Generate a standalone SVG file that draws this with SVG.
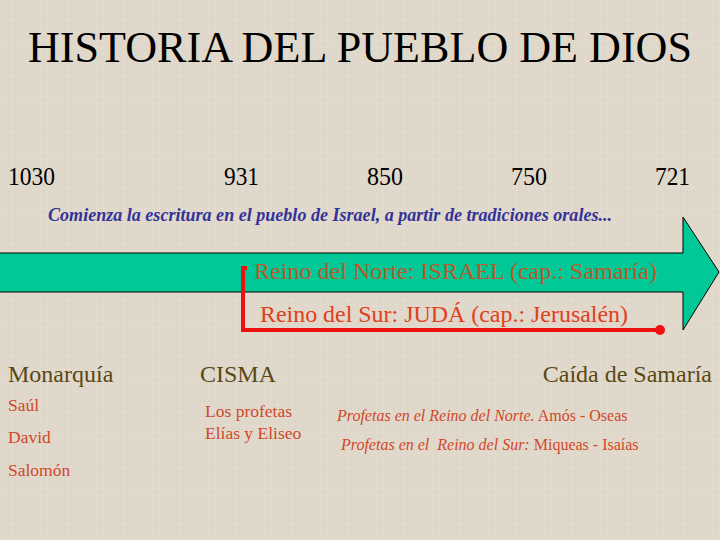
<svg xmlns="http://www.w3.org/2000/svg" width="720" height="540" viewBox="0 0 720 540">
<defs>
<style>
text{font-family:"Liberation Serif","Times New Roman",serif;}
.title{font-size:44px;fill:#000;}
.year{font-size:25px;fill:#000;}
.intro{font-size:19px;font-weight:bold;font-style:italic;fill:#333399;}
.norte{font-size:24px;fill:#b85a2c;}
.sur{font-size:24px;fill:#e0401a;}
.head{font-size:24px;fill:#5a4814;}
.item{font-size:17.5px;fill:#d0482a;}
.prof{font-size:16px;fill:#d0482a;}
.it{font-style:italic;}
</style>
<pattern id="tex" width="7" height="7" patternUnits="userSpaceOnUse">
<rect width="7" height="7" fill="#e0d8ca"/>
<rect x="1" y="2" width="1" height="1" fill="#d6cdbd"/>
<rect x="5" y="5" width="1" height="1" fill="#e9e2d6"/>
</pattern>
</defs>
<rect width="720" height="540" fill="url(#tex)"/>
<g id="title"><text class="title" x="28" y="62" textLength="664" lengthAdjust="spacingAndGlyphs">HISTORIA DEL PUEBLO DE DIOS</text></g>
<g id="years">
<text class="year" x="8" y="185" textLength="47" lengthAdjust="spacingAndGlyphs">1030</text>
<text class="year" x="224" y="185" textLength="35" lengthAdjust="spacingAndGlyphs">931</text>
<text class="year" x="367" y="185" textLength="36" lengthAdjust="spacingAndGlyphs">850</text>
<text class="year" x="511" y="185" textLength="36" lengthAdjust="spacingAndGlyphs">750</text>
<text class="year" x="655" y="185" textLength="35" lengthAdjust="spacingAndGlyphs">721</text>
</g>
<g id="intro"><text class="intro" x="48" y="221" textLength="564" lengthAdjust="spacingAndGlyphs">Comienza la escritura en el pueblo de Israel, a partir de tradiciones orales...</text></g>
<g id="timeline-arrow">
<polygon points="-2,253 683,253 683,217 719,272 683,330 683,292 -2,292" fill="#00c896" stroke="#000" stroke-width="1"/>
</g>
<g id="connectors">
<polyline points="247,268 243,268 243,330 660,330" fill="none" stroke="#ee1111" stroke-width="4"/>
<circle cx="660" cy="330" r="5" fill="#ee1111"/>
</g>
<g id="reino-norte"><text class="norte" x="254" y="279" textLength="403" lengthAdjust="spacingAndGlyphs">Reino del Norte: ISRAEL (cap.: Samaría)</text></g>
<g id="reino-sur"><text class="sur" x="260" y="322" textLength="368" lengthAdjust="spacingAndGlyphs">Reino del Sur: JUDÁ (cap.: Jerusalén)</text></g>
<g id="monarquia">
<text class="head" x="8" y="382">Monarquía</text>
<text class="item" x="8" y="411">Saúl</text>
<text class="item" x="8" y="443">David</text>
<text class="item" x="8" y="476">Salomón</text>
</g>
<g id="cisma">
<text class="head" x="200" y="382">CISMA</text>
<text class="item" x="205" y="417">Los profetas</text>
<text class="item" x="205" y="439">Elías y Eliseo</text>
</g>
<g id="caida">
<text class="head" x="712" y="382" text-anchor="end">Caída de Samaría</text>
<text class="prof" x="337" y="421"><tspan class="it">Profetas en el Reino del Norte.</tspan> Amós - Oseas</text>
<text class="prof" x="341" y="450" xml:space="preserve"><tspan class="it">Profetas en el  Reino del Sur:</tspan> Miqueas - Isaías</text>
</g>
</svg>
